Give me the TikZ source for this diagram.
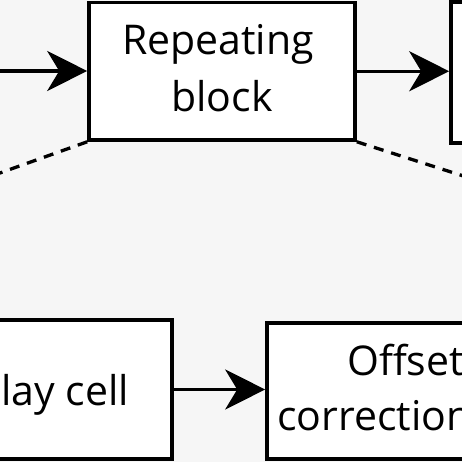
\documentclass[tikz,border=0pt]{standalone}
\usepackage{fontspec}
\setmainfont{Open Sans}
\usetikzlibrary{arrows.meta,calc}
\definecolor{bgc}{RGB}{246,246,246}
\tikzset{
  blk/.style={draw=black, line width=3.6pt, fill=white, rectangle, inner sep=0pt},
  txt/.style={font=\fontsize{41}{55}\selectfont, inner sep=0pt, text=black},
  flow/.style={line width=3.3pt, -{Stealth[length=40pt, width=40pt, inset=12pt]}},
  zoomline/.style={line width=3.3pt, dash pattern=on 10pt off 8pt}
}
\begin{document}
\begin{tikzpicture}[x=1pt,y=1pt]
\useasboundingbox (0,0) rectangle (462,462);
\clip (0,0) rectangle (462,462);
\fill[bgc] (0,0) rectangle (462,462);
% top row
\node[blk, minimum width=266pt, minimum height=137.5pt] (rep) at (222,390.75) {};
\node[blk, minimum width=150pt, minimum height=141pt] (nxt) at (526,389.5) {};
\node[txt, anchor=base] (repA) at (218,407) {Repeating};
\node[txt, anchor=base] (repB) at (222,350) {block};
\coordinate (inL) at (-20,391);
\coordinate (outR) at (rep.east);
\draw[flow] (inL) -- (rep.west |- inL);
\draw[flow] (outR) -- (nxt.west |- outR);
% zoom lines
\coordinate (zL) at (-100,253.3);
\coordinate (zR) at (560,255);
\draw[zoomline] (rep.south west) -- (zL);
\draw[zoomline] (rep.south east) -- (zR);
% bottom row
\node[blk, minimum width=238pt, minimum height=139pt] (dly) at (53,72.5) {};
\node[blk, minimum width=300pt, minimum height=136pt] (off) at (417,71) {};
\node[txt, anchor=base east] (dlyT) at (129,56) {Delay cell};
\node[txt, anchor=base west] (offA) at (347,86) {Offset};
\node[txt, anchor=base west] (offB) at (277,31) {correction};
\draw[flow] (dly.east) -- (dly.east -| off.west);
\end{tikzpicture}
\end{document}
